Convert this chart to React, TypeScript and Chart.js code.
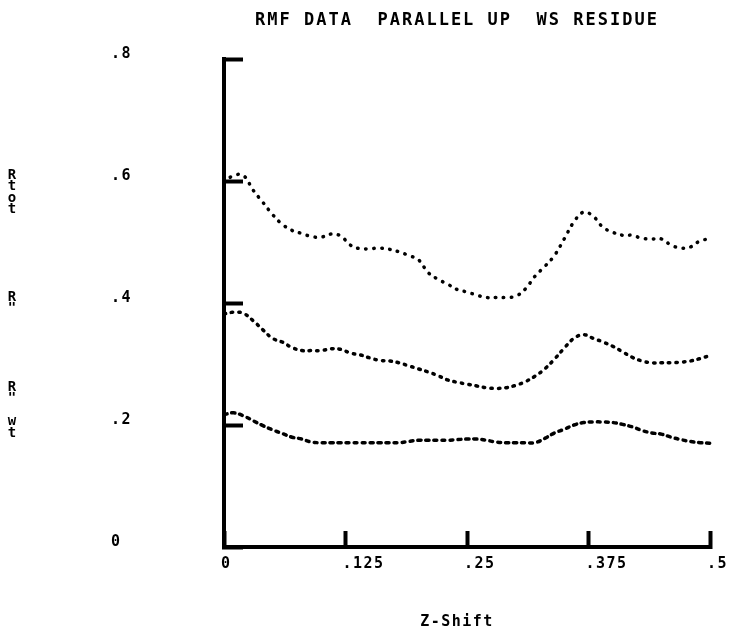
import React, { useEffect, useRef } from "react";
import { Chart, registerables } from "chart.js";

Chart.register(...registerables);

const titleText = "RMF DATA  PARALLEL UP  WS RESIDUE";
const xAxisTitle = "Z-Shift";

const xTickValues = [0, 0.125, 0.25, 0.375, 0.5];
const xTickLabels = ["0", ".125", ".25", ".375", ".5"];
const yTickValues = [0, 0.2, 0.4, 0.6, 0.8];
const yTickLabels = ["0", ".2", ".4", ".6", ".8"];

// vertical side labels (one character per line)
const sideLabels = [
  ["R", "t", "o", "t"],
  ["R", '"'],
  ["R", '"', "", "w", "t"],
];

const zShift = [
  0.0, 0.01, 0.02, 0.03, 0.04, 0.05, 0.06, 0.07, 0.08, 0.09,
  0.1, 0.11, 0.12, 0.13, 0.14, 0.15, 0.16, 0.17, 0.18, 0.19,
  0.2, 0.21, 0.22, 0.23, 0.24, 0.25, 0.26, 0.27, 0.28, 0.29,
  0.3, 0.31, 0.32, 0.33, 0.34, 0.35, 0.36, 0.37, 0.38, 0.39,
  0.4, 0.41, 0.42, 0.43, 0.44, 0.45, 0.46, 0.47, 0.48, 0.49,
  0.5,
];

const rTot = [
  0.598, 0.609, 0.609, 0.585, 0.565, 0.545, 0.529, 0.519, 0.514, 0.509,
  0.508, 0.513, 0.51, 0.495, 0.489, 0.489, 0.49, 0.488, 0.484, 0.478,
  0.471, 0.45, 0.439, 0.431, 0.422, 0.418, 0.413, 0.409, 0.409, 0.409,
  0.411, 0.423, 0.444, 0.46, 0.478, 0.505, 0.533, 0.549, 0.542, 0.524,
  0.516, 0.511, 0.511, 0.506, 0.505, 0.505, 0.495, 0.49, 0.492, 0.502,
  0.505,
];

const rDouble = [
  0.382, 0.385, 0.383, 0.371, 0.356, 0.342, 0.336, 0.327, 0.322, 0.322,
  0.322, 0.325, 0.324, 0.318, 0.315, 0.31, 0.306, 0.305, 0.302, 0.297,
  0.292, 0.287, 0.281, 0.274, 0.27, 0.267, 0.264, 0.261, 0.26, 0.261,
  0.265, 0.271, 0.28, 0.292, 0.308, 0.326, 0.342, 0.348, 0.342, 0.336,
  0.329, 0.32, 0.311, 0.305, 0.302, 0.302, 0.302, 0.303, 0.305, 0.309,
  0.314,
];

const rWt = [
  0.217, 0.22, 0.215, 0.207, 0.199, 0.192, 0.186, 0.18, 0.177, 0.172,
  0.171, 0.171, 0.171, 0.171, 0.171, 0.171, 0.171, 0.171, 0.171, 0.173,
  0.175, 0.175, 0.175, 0.175, 0.176, 0.177, 0.177, 0.175, 0.172, 0.171,
  0.171, 0.171, 0.171, 0.178, 0.187, 0.193, 0.2, 0.204, 0.205, 0.205,
  0.204, 0.201, 0.197, 0.191, 0.187, 0.185, 0.18, 0.176, 0.173, 0.171,
  0.17,
];

const FONT = '"DejaVu Sans Mono", "Liberation Mono", monospace';

const textPlugin = {
  id: "oldPrinterText",
  beforeUpdate(chart: any) {
    chart.ctx.letterSpacing = "1.5px";
  },
  beforeDraw(chart: any) {
    chart.ctx.letterSpacing = "1.5px";
  },
  afterDraw(chart: any) {
    const { ctx, chartArea, scales } = chart;
    const ys = scales.y;
    const cx = (chartArea.left + chartArea.right) / 2;
    ctx.save();
    ctx.fillStyle = "#000";
    ctx.textBaseline = "middle";
    ctx.textAlign = "center";
    ctx.letterSpacing = "2px";
    ctx.font = `bold 17px ${FONT}`;
    ctx.fillText(titleText, cx - 10, 21);
    ctx.letterSpacing = "1.5px";
    ctx.font = `bold 15px ${FONT}`;
    ctx.fillText(xAxisTitle, cx - 10, 622);

    ctx.letterSpacing = "0px";
    ctx.textAlign = "center";
    ctx.font = `bold 14px ${FONT}`;
    const anchors = [
      ys.getPixelForValue(0.6) - 6,
      ys.getPixelForValue(0.4) - 6,
      ys.getPixelForValue(0.2) - 38,
    ];
    sideLabels.forEach((lines, gi) => {
      lines.forEach((ch, li) => {
        if (ch) ctx.fillText(ch, 12, anchors[gi] + li * 11.5);
      });
    });
    ctx.restore();
  },
};

export default function App() {
  const ref = useRef<HTMLCanvasElement | null>(null);

  useEffect(() => {
    document.body.style.margin = "0";
    const canvas = ref.current;
    if (!canvas) return;

    const mk = (vals: number[]) => zShift.map((x, i) => ({ x, y: vals[i] }));
    const base = {
      borderColor: "#000",
      backgroundColor: "#000",
      borderWidth: 3.5,
      borderCapStyle: "round" as const,
      pointRadius: 0,
      tension: 0.4,
      fill: false,
      clip: false as any,
    };

    const chart = new Chart(canvas, {
      type: "line",
      data: {
        datasets: [
          { ...base, label: "R tot", data: mk(rTot), borderDash: [0.5, 7.5] },
          { ...base, label: 'R"', data: mk(rDouble), borderDash: [1.5, 6] },
          { ...base, label: 'R" wt', data: mk(rWt), borderDash: [3, 5] },
        ],
      },
      options: {
        responsive: false,
        animation: false,
        devicePixelRatio: 1,
        layout: { padding: { left: 111, right: 21, top: 59, bottom: 0 } },
        plugins: {
          legend: { display: false },
          tooltip: { enabled: false },
          title: { display: false },
        },
        scales: {
          x: {
            type: "linear",
            min: 0,
            max: 0.5,
            afterBuildTicks: (s: any) => {
              s.ticks = xTickValues.map((v) => ({ value: v }));
            },
            afterFit: (s: any) => {
              s.height = 86;
              s.paddingRight = 0;
              s.paddingLeft = 0;
            },
            ticks: {
              callback: (_v: any, i: number) => xTickLabels[i],
              align: "start",
              labelOffset: -3,
              padding: 24,
              maxRotation: 0,
              autoSkip: false,
              color: "#000",
              font: { family: FONT, size: 15, weight: "bold" },
            },
            grid: {
              display: true,
              drawOnChartArea: false,
              drawTicks: true,
              tickLength: -16,
              tickWidth: 4,
              tickColor: "#000",
            },
            border: { display: true, width: 4, color: "#000" },
            title: { display: false },
          },
          y: {
            type: "linear",
            min: 0,
            max: 0.8,
            afterBuildTicks: (s: any) => {
              s.ticks = yTickValues.map((v) => ({ value: v }));
            },
            afterFit: (s: any) => {
              s.width = 113;
              s.paddingTop = 0;
              s.paddingBottom = 0;
            },
            ticks: {
              callback: (_v: any, i: number) => yTickLabels[i],
              crossAlign: "far",
              labelOffset: -5,
              padding: 0,
              color: "#000",
              font: { family: FONT, size: 15, weight: "bold" },
            },
            grid: {
              display: true,
              drawOnChartArea: false,
              drawTicks: true,
              tickLength: -19,
              tickWidth: 4,
              tickColor: "#000",
            },
            border: { display: true, width: 4, color: "#000" },
          },
        },
      } as any,
      plugins: [textPlugin],
    });

    return () => chart.destroy();
  }, []);

  return (
    <div style={{ width: 731, height: 633, overflow: "hidden", background: "#fff" }}>
      <canvas ref={ref} width={731} height={633} style={{ display: "block", width: 731, height: 633 }} />
    </div>
  );
}
